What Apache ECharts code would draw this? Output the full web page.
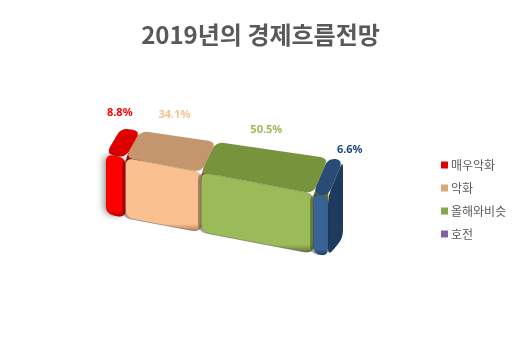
<!DOCTYPE html>
<html><head><meta charset="utf-8">
<script src="https://cdn.jsdelivr.net/npm/echarts@6/dist/echarts.min.js"></script>
<style>html,body{margin:0;padding:0;background:#fff}#c{width:521px;height:343px}</style>
</head><body><div id="c"></div>
<script>
const categories = ['매우악화', '악화', '올해와비슷', '호전'];
const values = [8.8, 34.1, 50.5, 6.6];
const labels = ['8.8%', '34.1%', '50.5%', '6.6%'];

const frontColors = ['#ff0000', '#fac090', '#9bbb59', '#3a6396'];
const topColors = ['#dc0000', '#c4966e', '#77933c', '#2a4b75'];
const sideColors = ['#b00000', '#a87a55', '#5e7530', '#1f3a5f'];
const labelColors = ['#ff0000', '#fac090', '#9bbb59', '#1f497d'];
const legendColors = ['#e00000', '#d9a77c', '#86a74a', '#8064a2'];
const labelOffsets = [[4, -43], [11, -50], [9, -53], [29, -45]];

function roundedPath(pts, r) {
  const n = pts.length;
  let d = '';
  for (let i = 0; i < n; i++) {
    const p = pts[i], prev = pts[(i + n - 1) % n], next = pts[(i + 1) % n];
    const v1 = [prev[0] - p[0], prev[1] - p[1]], v2 = [next[0] - p[0], next[1] - p[1]];
    const l1 = Math.hypot(v1[0], v1[1]), l2 = Math.hypot(v2[0], v2[1]);
    const r1 = Math.min(r, l1 / 2), r2 = Math.min(r, l2 / 2);
    const a = [p[0] + v1[0] / l1 * r1, p[1] + v1[1] / l1 * r1];
    const b = [p[0] + v2[0] / l2 * r2, p[1] + v2[1] / l2 * r2];
    d += (i === 0 ? 'M' : 'L') + a[0] + ',' + a[1] + 'Q' + p[0] + ',' + p[1] + ',' + b[0] + ',' + b[1];
  }
  return d + 'Z';
}

const starts = [];
values.reduce((acc, v) => { starts.push(acc); return acc + v; }, 0);

function makeRender(i) {
  return function (params, api) {
    const s = api.value(0), e = api.value(1);
    const gl = api.coord([0, 0])[0], gr = api.coord([100, 0])[0];
    const a = api.coord([s, 1]), b = api.coord([e, 0]);
    const x0 = a[0], x1 = b[0], yt0 = a[1], yb0 = b[1];
    const k = 0.19;
    const yT = x => yt0 + (x - gl) * k;
    const yB = x => yb0 + (x - gl) * k;
    const ddx = 15;
    const ddy = x => -26 - 10 * (x - gl) / (gr - gl);
    const front = [[x0, yT(x0)], [x1, yT(x1)], [x1, yB(x1)], [x0, yB(x0)]];
    const top = [[x0, yT(x0)], [x0 + ddx, yT(x0) + ddy(x0)], [x1 + ddx, yT(x1) + ddy(x1)], [x1, yT(x1)]];
    const side = [[x1, yT(x1)], [x1 + ddx, yT(x1) + ddy(x1)], [x1 + ddx, yB(x1) + ddy(x1) * 0.5], [x1, yB(x1)]];
    const cx = (x0 + x1) / 2;
    const off = labelOffsets[i];
    return {
      type: 'group',
      children: [
        { type: 'path', shape: { pathData: roundedPath(side, 8) }, style: { fill: sideColors[i] } },
        { type: 'path', shape: { pathData: roundedPath(top, 8) }, style: { fill: topColors[i] } },
        { type: 'path', shape: { pathData: roundedPath(front, 8) },
          style: { fill: {type: 'linear', x: 0, y: 0, x2: 0, y2: 1, colorStops: [
            {offset: 0, color: frontColors[i]}, {offset: 0.9, color: frontColors[i]}, {offset: 1, color: sideColors[i]}]},
            stroke: 'rgba(0,0,0,0.12)', lineWidth: 1,
            shadowBlur: i === 0 ? 6 : 0, shadowColor: 'rgba(0,0,0,0.35)', shadowOffsetX: -3 } },
        { type: 'text', x: cx + off[0], y: yT(cx) + off[1],
          style: { text: labels[i], fill: labelColors[i], font: 'bold 11px "Noto Sans", sans-serif', align: 'center', verticalAlign: 'middle' } }
      ]
    };
  };
}

const series = categories.map((c, i) => ({
  name: c,
  type: 'custom',
  renderItem: makeRender(i),
  itemStyle: { color: legendColors[i] },
  data: [[starts[i], starts[i] + values[i]]],
  encode: { x: [0, 1] }
}));

const chart = echarts.init(document.getElementById('c'), null, { renderer: 'canvas' });
chart.setOption({
  animation: false,
  title: {
    text: '2019년의 경제흐름전망', left: 'center', top: 18,
    textStyle: { fontFamily: '"Noto Sans CJK KR", sans-serif', fontSize: 24, fontWeight: 'bold', color: '#595959' }
  },
  legend: {
    orient: 'vertical', left: 436, top: 154, itemWidth: 7, itemHeight: 7, itemGap: 11,
    icon: 'rect',
    data: categories.map((c, i) => ({ name: c, itemStyle: { color: legendColors[i] } })),
    textStyle: { fontFamily: '"Noto Sans CJK KR", sans-serif', fontSize: 12, color: '#595959', padding: [0, 0, 0, -2] }
  },
  grid: { left: 106, width: 222, top: 154, height: 60 },
  xAxis: { type: 'value', min: 0, max: 100, show: false },
  yAxis: { type: 'value', min: 0, max: 1, show: false },
  series: series
});
</script></body></html>
